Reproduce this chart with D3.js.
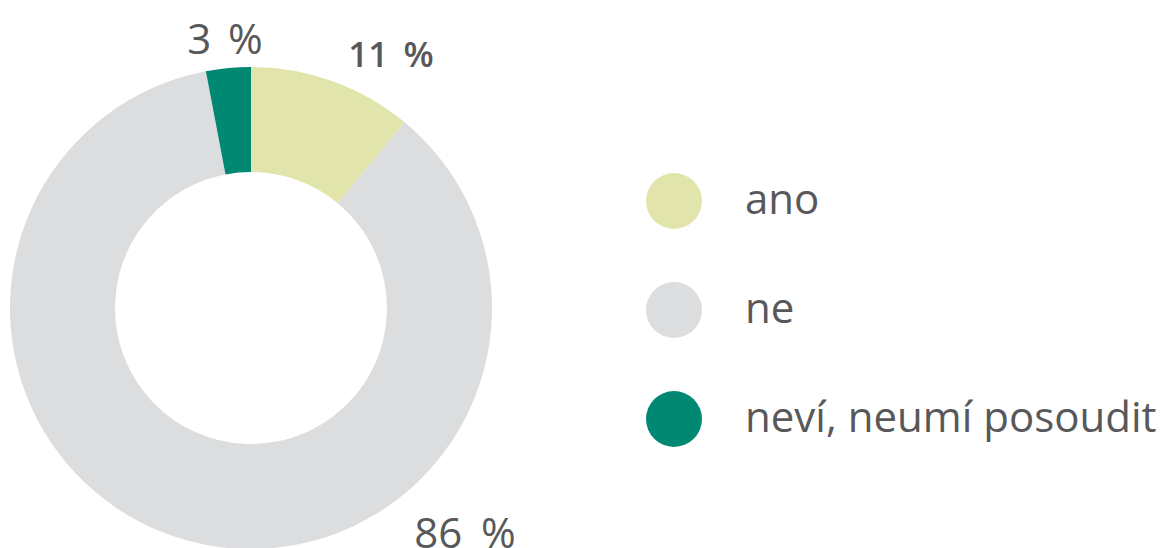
<!DOCTYPE html>
<html><head><meta charset="utf-8">
<script src="https://cdn.jsdelivr.net/npm/d3@7"></script>
<style>html,body{margin:0;padding:0;background:#fff;overflow:hidden}</style>
</head><body>
<svg id="c" width="1163" height="548"></svg>
<script>
const categories = ["ano", "ne", "neví, neumí posoudit"];
const values = [11, 86, 3];
const valueLabels = ["11 %", "86 %", "3 %"];
const colors = ["#e1e5ab", "#dcdddf", "#008872"];

// layout (not data)
const cx = 251, cy = 308, rOuter = 241, rInner = 136;
const labelPlace = [
  {x: 391, y: 67, size: 35, weight: 600, ws: 6},
  {x: 465, y: 548, size: 42, weight: 400, ws: 8},
  {x: 225, y: 54, size: 42, weight: 400, ws: 6}
];
const textColor = "#58585a";
const font = "'Open Sans', sans-serif";

const svg = d3.select("#c");
const pie = d3.pie().sort(null).value(d => d)(values);
const arc = d3.arc().innerRadius(rInner).outerRadius(rOuter);
const color = d3.scaleOrdinal().domain(categories).range(colors);

const g = svg.append("g").attr("transform", `translate(${cx},${cy})`);
g.selectAll("path").data(pie).join("path")
  .attr("d", arc)
  .attr("fill", (d, i) => color(categories[i]));

svg.selectAll("text.val").data(valueLabels).join("text")
  .attr("class", "val")
  .attr("x", (d, i) => labelPlace[i].x)
  .attr("y", (d, i) => labelPlace[i].y)
  .attr("text-anchor", "middle")
  .attr("font-family", font)
  .attr("font-size", (d, i) => labelPlace[i].size)
  .attr("font-weight", (d, i) => labelPlace[i].weight)
  .attr("word-spacing", (d, i) => labelPlace[i].ws)
  .attr("fill", textColor)
  .text(d => d);

const ly = d3.scalePoint().domain(categories).range([201, 419]);
const leg = svg.append("g").selectAll("g").data(categories).join("g")
  .attr("transform", d => `translate(674,${ly(d)})`);
leg.append("circle").attr("r", 28).attr("fill", d => color(d));
leg.append("text")
  .attr("x", 71).attr("y", 13)
  .attr("font-family", font)
  .attr("font-size", 42)
  .attr("fill", textColor)
  .text(d => d);
</script>
</body></html>
